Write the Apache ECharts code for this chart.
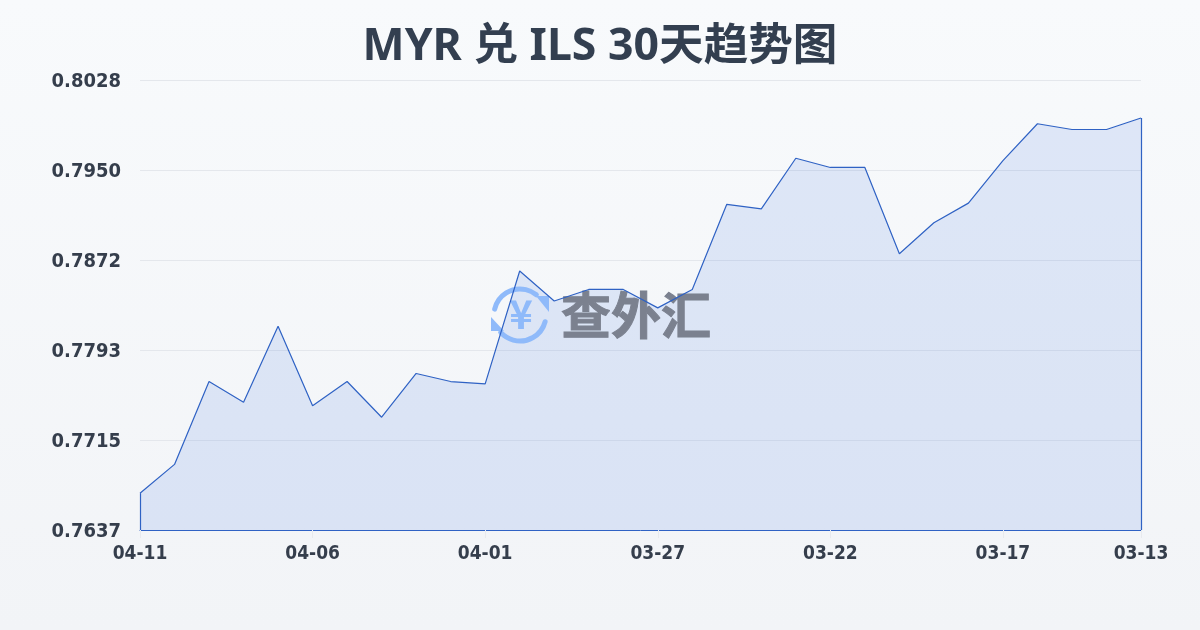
<!DOCTYPE html>
<html><head><meta charset="utf-8">
<style>html,body{margin:0;padding:0;width:1200px;height:630px;overflow:hidden}#c{width:1200px;height:630px}</style>
<script src="https://cdn.jsdelivr.net/npm/echarts@6/dist/echarts.min.js"></script>
</head><body><div id="c"></div>
<script>
const titleText = 'MYR 兑 ILS 30天趋势图';
const dates = ['04-11','04-10','04-09','04-08','04-07','04-06','04-05','04-04','04-03','04-02','04-01','03-31','03-30','03-29','03-28','03-27','03-26','03-25','03-24','03-23','03-22','03-21','03-20','03-19','03-18','03-17','03-16','03-15','03-14','03-13'];
const rates = [0.7669,0.7694,0.7766,0.7748,0.7814,0.7745,0.7766,0.7735,0.7773,0.7766,0.7764,0.7862,0.7836,0.7846,0.7846,0.7830,0.7846,0.7920,0.7916,0.7960,0.7952,0.7952,0.7877,0.7904,0.7921,0.7958,0.7990,0.7985,0.7985,0.7995];
const yMin = 0.7637, yMax = 0.8028, yStep = 0.00782;
const font = '"DejaVu Sans Condensed","Noto Sans CJK SC",sans-serif';
const titleFont = '"Noto Sans","Noto Sans CJK SC",sans-serif';
const showTick = i => i % 5 === 0 || i === dates.length - 1;
const lineBlue = '#2f62c4';
const chart = echarts.init(document.getElementById('c'), null, {renderer:'canvas'});
const logoBlue = '#8fbafa';
const wz = 2;
chart.setOption({
  animation:false,
  backgroundColor:{type:'linear',x:0,y:0,x2:0,y2:1,colorStops:[{offset:0,color:'#f8fafc'},{offset:1,color:'#f2f4f7'}]},
  title:{text:titleText,left:'center',top:20,textStyle:{fontFamily:titleFont,fontSize:44.6,fontWeight:700,color:'#333f50'}},
  grid:{left:140,right:59,top:80,bottom:100},
  xAxis:{type:'category',boundaryGap:false,data:dates,
    axisLine:{show:true,lineStyle:{color:lineBlue,width:1}},
    axisTick:{show:true,length:8,interval:i=>showTick(i),lineStyle:{color:'#e8eaee'}},
    axisLabel:{interval:i=>showTick(i),margin:15,fontFamily:font,fontSize:19,fontWeight:700,color:'#353e4c'},
    splitLine:{show:false}},
  yAxis:{type:'value',min:yMin,max:yMax,interval:yStep,
    axisLine:{show:false},axisTick:{show:false},
    axisLabel:{formatter:v=>v.toFixed(4),margin:19,verticalAlign:'top',lineHeight:3,fontFamily:font,fontSize:20,fontWeight:700,color:'#353e4c'},
    splitLine:{lineStyle:{color:'#e4e7ec',width:1}}},
  graphic:[
    {type:'arc',z:wz,silent:true,shape:{cx:520,cy:315,r:26,startAngle:Math.PI*193/180,endAngle:Math.PI*309/180},style:{stroke:logoBlue,lineWidth:5,fill:null,lineCap:'round'}},
    {type:'arc',z:wz,silent:true,shape:{cx:520,cy:315,r:26,startAngle:Math.PI*15/180,endAngle:Math.PI*138/180},style:{stroke:logoBlue,lineWidth:5,fill:null,lineCap:'round'}},
    {type:'polygon',z:wz,silent:true,shape:{points:[[536,296],[549,296],[549,312]]},style:{fill:logoBlue}},
    {type:'polygon',z:wz,silent:true,shape:{points:[[491,317],[491,331],[504,331]]},style:{fill:logoBlue}},
    {type:'text',z:wz,silent:true,style:{x:521,y:314,text:'¥',align:'center',verticalAlign:'middle',font:'700 40px "Noto Sans CJK SC",sans-serif',fill:logoBlue}},
    {type:'text',z:wz,silent:true,style:{x:636,y:315,text:'查外汇',align:'center',verticalAlign:'middle',font:'700 50px "Noto Sans CJK SC",sans-serif',fill:'#7b818f',stroke:'#7b818f',lineWidth:1}}
  ],
  series:[
    {type:'line',data:rates,symbol:'none',smooth:false,z:1,
      lineStyle:{width:0},
      areaStyle:{color:'rgba(60,110,225,0.19)',origin:'start'}},
    {type:'line',data:rates,symbol:'none',smooth:false,z:3,
      lineStyle:{color:lineBlue,width:1.2},
      markLine:{silent:true,symbol:'none',label:{show:false},lineStyle:{color:lineBlue,width:1.2,type:'solid'},
        data:[
          [{coord:[0,yMin]},{coord:[0,rates[0]]}],
          [{coord:[dates.length-1,yMin]},{coord:[dates.length-1,rates[rates.length-1]]}]
        ]}}
  ]
});
</script></body></html>
